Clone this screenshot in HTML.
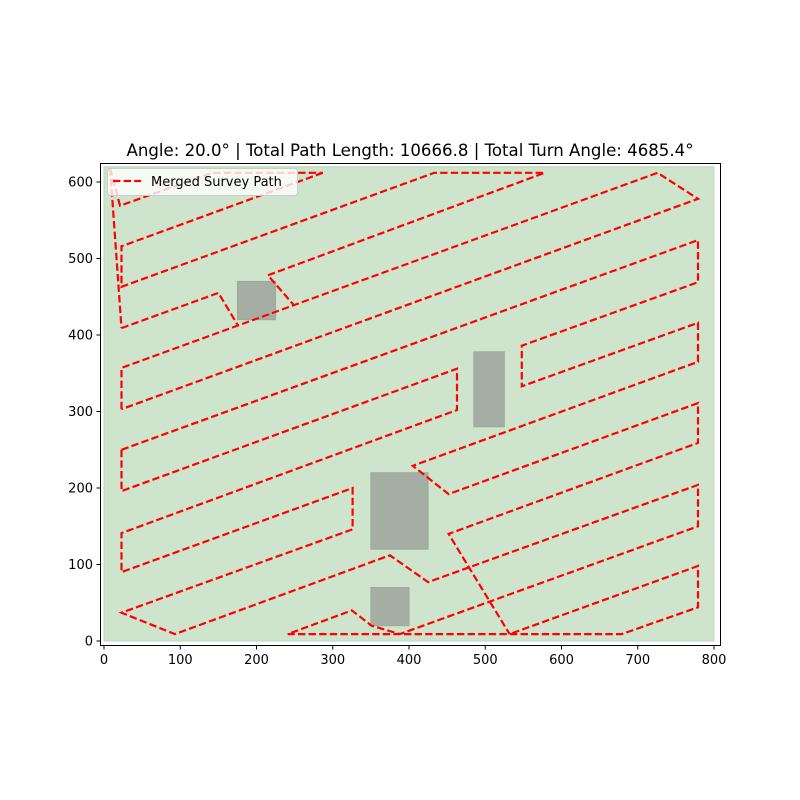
<!DOCTYPE html>
<html><head><meta charset="utf-8"><style>
html,body{margin:0;padding:0;background:#fff;}
svg{display:block;font-family:"DejaVu Sans","Liberation Sans",sans-serif;}
</style></head><body>
<svg id="chart" width="800" height="800" viewBox="0 0 800 800">
<rect x="0" y="0" width="800" height="800" fill="#fff"/>
<text x="410" y="156" text-anchor="middle" font-size="16.6" fill="#000">Angle: 20.0° | Total Path Length: 10666.8 | Total Turn Angle: 4685.4°</text>
<g id="plot"></g>
</svg>
<script>
// Field and obstacles (data units)
const fieldBounds = [0, 0, 800, 620];
const obstacleX0 = [175, 485, 350, 350];
const obstacleY0 = [420, 280, 120, 20];
const obstacleX1 = [225, 525, 425, 400];
const obstacleY1 = [470, 378, 220, 70];
// Path polylines (data units)
const pathTop = [[8,618],[21,569],[142,612],[287,612]];
const pathLeftDrift = [[8,618],[23,409]];
const pathUpper = [[287,612],[23,516],[23,463],[433,612],[578,612],[215,478],[249,439]];
const pathObstacleDetour = [[23,409],[150,455],[176,412]];
const pathLoop = [[23,303],[23,357],[726,612],[779,578],[23,303]];
const pathMiddle = [[23,250],[779,524],[779,469],[548,386],[548,333],[779,416],[779,365],[405,229],[452,192],[779,311],[779,259],[452,140],[532,9]];
const pathLower = [[23,250],[23,196],[463,356],[463,302],[23,141],[23,90],[326,200],[326,146],[23,37],[93,9],[375,112],[425,77],[779,204],[779,150],[388,9],[351,20],[325,40],[241,9],[679,9],[779,44],[779,98],[532,9]];
const pathSeries = [pathTop, pathLeftDrift, pathUpper, pathObstacleDetour, pathLoop, pathMiddle, pathLower];
const xTicks = [0,100,200,300,400,500,600,700,800];
const yTicks = [0,100,200,300,400,500,600];

const NS = "http://www.w3.org/2000/svg";
const plot = document.getElementById('plot');
function sx(x){ return 104 + x*0.7625; }
function sy(y){ return 641 - y*0.765; }
function mk(tag, attrs){ const e=document.createElementNS(NS,tag); for(const k in attrs) e.setAttribute(k,attrs[k]); plot.appendChild(e); return e; }

const f = mk('rect',{x:sx(fieldBounds[0]),y:sy(fieldBounds[3]),width:sx(fieldBounds[2])-sx(fieldBounds[0]),height:sy(fieldBounds[1])-sy(fieldBounds[3]),fill:'#cfe4cd',stroke:'#b9dbb6','stroke-width':1});



for(let i=0;i<obstacleX0.length;i++){
  const o = mk('rect',{x:sx(obstacleX0[i]),y:sy(obstacleY1[i]),width:sx(obstacleX1[i])-sx(obstacleX0[i]),height:sy(obstacleY0[i])-sy(obstacleY1[i]),fill:'#a5aea2',stroke:'#9ea89b','stroke-width':1});
  
  
}

pathSeries.forEach(function(pl){
  const d = pl.map(function(p,i){ return (i?'L':'M')+sx(p[0]).toFixed(1)+','+sy(p[1]).toFixed(1); }).join(' ');
  const p = mk('path',{d:d,fill:'none',stroke:'#ff0000','stroke-width':2.2,'stroke-dasharray':'7.4,3.2','stroke-linejoin':'miter'});
  
  
});

const fr = mk('rect',{x:100.5,y:163.5,width:620,height:482,fill:'none',stroke:'#000','stroke-width':1});



xTicks.forEach(function(v){
  const t = mk('line',{x1:sx(v),y1:646,x2:sx(v),y2:649.5,stroke:'#000','stroke-width':1});
  
  
  const l = mk('text',{x:sx(v),y:664,'text-anchor':'middle','font-size':13,fill:'#000'});
  l.textContent = v;
  
  
});
yTicks.forEach(function(v){
  const t = mk('line',{x1:96.5,y1:sy(v),x2:100,y2:sy(v),stroke:'#000','stroke-width':1});
  
  
  const l = mk('text',{x:93,y:sy(v)+4.5,'text-anchor':'end','font-size':13,fill:'#000'});
  l.textContent = v;
  
  
});

const lg = mk('rect',{x:107.5,y:168.5,width:190,height:27,rx:3,fill:'#ffffff','fill-opacity':0.8,stroke:'#cccccc','stroke-width':1});


const ll = mk('line',{x1:113,y1:181,x2:141,y2:181,stroke:'#ff0000','stroke-width':2.2,'stroke-dasharray':'7.4,3.2'});


const lt = mk('text',{x:151,y:186,'font-size':13,fill:'#000'});
lt.textContent = 'Merged Survey Path';


</script>
</body></html>
